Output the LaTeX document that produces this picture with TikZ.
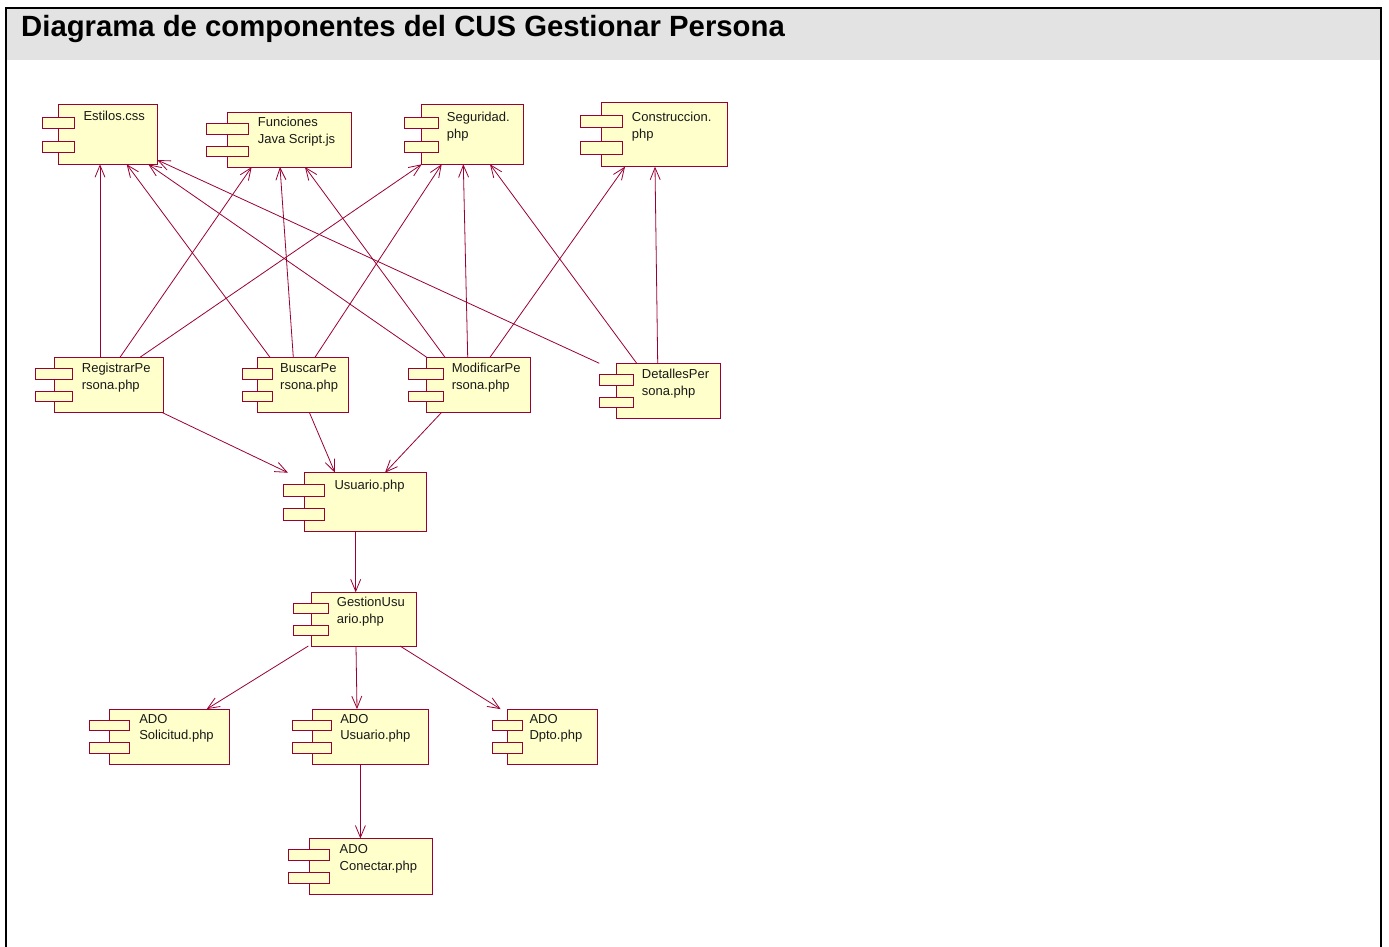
\documentclass[tikz,border=0pt]{standalone}
\usepackage{fontspec}
\setmainfont{Liberation Sans}
\usetikzlibrary{arrows.meta}
\definecolor{roseline}{RGB}{153,0,51}
\definecolor{rosefill}{RGB}{255,255,204}
\definecolor{headgray}{RGB}{227,227,227}

\tikzset{
  compbox/.style={draw=roseline, fill=rosefill, line width=1pt, inner sep=0pt, outer sep=0pt},
  comptab/.style={draw=roseline, fill=rosefill, line width=1pt, inner sep=0pt, outer sep=0pt},
  complabel/.style={anchor=base west, inner sep=0pt, text=black!90,
    font=\fontsize{13}{16.7}\selectfont},
  dep/.style={draw=roseline, line width=0.8pt, -{Straight Barb[length=12pt,width=10pt]}},
}

% component: name, x1, y1, x2, y2, tab width, label x, first baseline, label
\newcommand\comp[9]{%
  \pgfmathsetmacro\compw{#4-#2}%
  \pgfmathsetmacro\comph{#5-#3}%
  \pgfmathsetmacro\tabh{0.19*\comph}%
  \pgfmathsetmacro\tabya{0.30*\comph}%
  \pgfmathsetmacro\tabyb{0.71*\comph}%
  \node[compbox, minimum width=\compw pt, minimum height=\comph pt] (#1) at ({(#2+#4)/2},{(#3+#5)/2}) {};
  \node[comptab, minimum width=#6pt, minimum height=\tabh pt] (#1-a) at ([yshift=-\tabya pt]#1.north west) {};
  \node[comptab, minimum width=#6pt, minimum height=\tabh pt] (#1-b) at ([yshift=-\tabyb pt]#1.north west) {};
  \node[complabel] (#1-l) at (#7,#8) {\begin{tabular}[t]{@{}l@{}}#9\end{tabular}};
}

\begin{document}
\begin{tikzpicture}[x=1pt, y=-1pt]
\useasboundingbox (0,0) rectangle (1389,947);

% frame and title band
\fill[headgray] (6.8,9.3) rectangle (1380.2,60);
\draw[line width=2pt] (5.8,947) -- (5.8,8.3) -- (1381.2,8.3) -- (1381.2,947);
\node[anchor=base west, inner sep=0pt, font=\fontsize{29.3}{31}\selectfont\bfseries] (title) at (21,36.5)
  {Diagrama de componentes del CUS Gestionar Persona};

% components
\comp{est}{58.3}{105}{157.3}{164.3}{32.6}{83.3}{121}{Estilos.css}
\comp{fun}{227.3}{112.7}{351.7}{167}{41.7}{257.7}{126.7}{Funciones\\Java Script.js}
\comp{seg}{421.7}{105}{523.3}{164.3}{34.3}{446.7}{121.7}{Seguridad.\\php}
\comp{con}{601.7}{102.3}{727.7}{166.7}{42.3}{631.7}{121.7}{Construccion.\\php}
\comp{reg}{54}{357.3}{163.3}{412.3}{36.3}{81.7}{372.3}{RegistrarPe\\rsona.php}
\comp{bus}{257.7}{357.3}{348.3}{412.3}{29.6}{280}{372.3}{BuscarPe\\rsona.php}
\comp{mod}{426}{357.3}{530.7}{412.3}{34.4}{451.7}{372.3}{ModificarPe\\rsona.php}
\comp{det}{616}{363.3}{720.7}{418.3}{34}{641.7}{378.3}{DetallesPer\\sona.php}
\comp{usu}{304}{472.7}{426}{531.7}{40.7}{334.3}{489.3}{Usuario.php}
\comp{ges}{311}{592.3}{416.7}{646}{35.4}{336.7}{606.7}{GestionUsu\\ario.php}
\comp{asol}{109.4}{709.1}{229.3}{764.2}{40.2}{139.1}{723}{ADO\\Solicitud.php}
\comp{ausu}{312}{709.1}{428}{764.2}{38.9}{340.1}{723}{ADO\\Usuario.php}
\comp{adpt}{507.4}{709.1}{597.9}{764.2}{30.4}{529.3}{723}{ADO\\Dpto.php}
\comp{acon}{309}{838.5}{432}{894.3}{41.2}{339.5}{853.7}{ADO\\Conectar.php}

% dependencies towards the upper row
\draw[dep] ([xshift=46pt]reg.north west) -- ([xshift=41.7pt]est.south west);
\draw[dep] ([xshift=66pt]reg.north west) -- ([xshift=24.4pt]fun.south west);
\draw[dep] ([xshift=86pt]reg.north west) -- (seg.south west);

\draw[dep] ([xshift=12.3pt]bus.north west) -- ([xshift=68.4pt]est.south west);
\draw[dep] ([xshift=35.6pt]bus.north west) -- ([xshift=52.7pt]fun.south west);
\draw[dep] ([xshift=57.3pt]bus.north west) -- ([xshift=20pt]seg.south west);

\draw[dep] ([xshift=0.7pt]mod.north west) -- ([xshift=90pt]est.south west);
\draw[dep] ([xshift=19pt]mod.north west) -- ([xshift=77.7pt]fun.south west);
\draw[dep] ([xshift=41.7pt]mod.north west) -- ([xshift=41.6pt]seg.south west);
\draw[dep] ([xshift=64pt]mod.north west) -- ([xshift=23.3pt]con.south west);

\draw[dep] ([xshift=-16.7pt]det.north west) -- ([yshift=4.3pt]est.south east);
\draw[dep] ([xshift=20.7pt]det.north west) -- ([xshift=68.3pt]seg.south west);
\draw[dep] ([xshift=41.7pt]det.north west) -- ([xshift=53.3pt]con.south west);

% dependencies towards the lower part
\draw[dep] ([xshift=-1.6pt]reg.south east) -- ([xshift=-16pt]usu.north west);
\draw[dep] ([xshift=51.6pt]bus.south west) -- ([xshift=31pt]usu.north west);
\draw[dep] ([xshift=15.7pt]mod.south west) -- ([xshift=81pt]usu.north west);
\draw[dep] ([xshift=51.7pt]usu.south west) -- ([xshift=44.7pt]ges.north west);
\draw[dep] ([xshift=-2.7pt]ges.south west) -- ([xshift=97.3pt]asol.north west);
\draw[dep] ([xshift=45pt]ges.south west) -- ([xshift=45pt]ausu.north west);
\draw[dep] ([xshift=89pt]ges.south west) -- ([xshift=-6.8pt]adpt.north west);
\draw[dep] ([xshift=48.4pt]ausu.south west) -- ([xshift=51.4pt]acon.north west);
\end{tikzpicture}
\end{document}
